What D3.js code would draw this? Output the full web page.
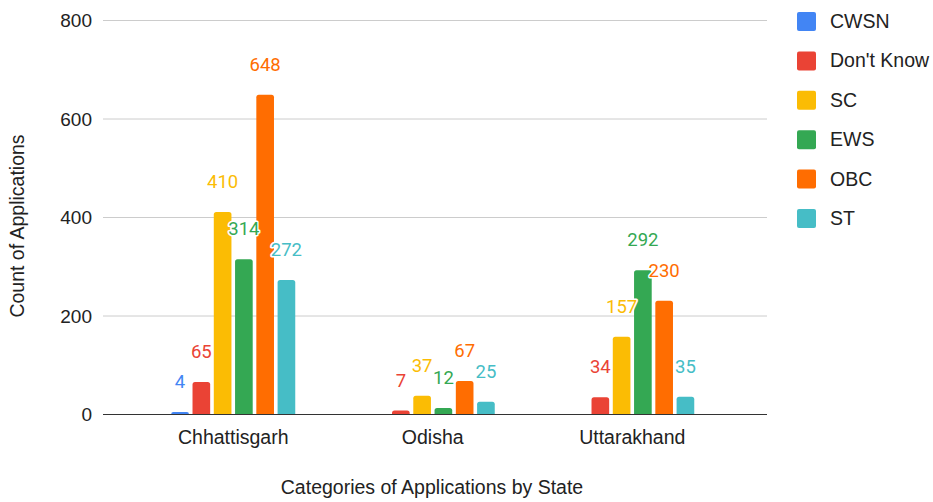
<!DOCTYPE html>
<html lang="en">
<head>
  <meta charset="UTF-8">
  <title>Categories of Applications by State</title>
  <script src="https://d3js.org/d3.v7.min.js"></script>
  <style>
    body {
      margin: 0;
      background: #fff;
    }
    text {
      font-family: "Liberation Sans", Arial, sans-serif;
      fill: #222;
    }
    .grid line {
      stroke: #cccccc;
      stroke-width: 1px;
    }
    .label {
      font-family: Roboto, sans-serif;
      font-size: 18.5px;
      stroke: #fff;
      stroke-width: 3px;
      stroke-linejoin: round;
      paint-order: stroke;
    }
  </style>
</head>
<body>
  <svg id="chart" width="933" height="502"></svg>

  <script>
    // Dane
    const states = ["Chhattisgarh", "Odisha", "Uttarakhand"];
    const categories = ["CWSN", "Don't Know", "SC", "EWS", "OBC", "ST"];
    const colors = ["#4285F4", "#EA4335", "#FBBC04", "#34A853", "#FF6D01", "#46BDC6"];
    const cwsn = [4, null, null];
    const dontKnow = [65, 7, 34];
    const sc = [410, 37, 157];
    const ews = [314, 12, 292];
    const obc = [648, 67, 230];
    const st = [272, 25, 35];
    const yTicks = [0, 200, 400, 600, 800];

    const series = [cwsn, dontKnow, sc, ews, obc, st];

    const width = 933;
    const height = 502;
    const plot = { left: 103, right: 767, top: 20, bottom: 414 };

    const svg = d3.select("#chart");

    // Skale
    const x0 = d3.scaleBand()
      .domain(states)
      .range([133.5, 732]);

    const x1 = d3.scaleBand()
      .domain(categories)
      .range([0, 124])
      .paddingInner(0.17);

    const y = d3.scaleLinear()
      .domain([0, 800])
      .range([plot.bottom, plot.top]);

    // Linie siatki
    svg.append("g")
      .attr("class", "grid")
      .selectAll("line")
      .data(yTicks.filter(d => d > 0))
      .enter()
      .append("line")
      .attr("x1", plot.left)
      .attr("x2", plot.right)
      .attr("y1", d => y(d) + 0.5)
      .attr("y2", d => y(d) + 0.5);

    // Etykiety osi Y
    svg.append("g")
      .selectAll("text")
      .data(yTicks)
      .enter()
      .append("text")
      .attr("x", 92)
      .attr("y", d => y(d) + 7)
      .attr("text-anchor", "end")
      .style("font-size", "19px")
      .text(d => d);

    // Słupki z zaokrąglonymi górnymi rogami
    function barPath(x, yTop, w, yBase, r) {
      r = Math.min(r, yBase - yTop);
      return `M${x},${yBase}V${yTop + r}Q${x},${yTop} ${x + r},${yTop}` +
        `H${x + w - r}Q${x + w},${yTop} ${x + w},${yTop + r}V${yBase}Z`;
    }

    const bars = [];
    states.forEach((s, i) => {
      categories.forEach((c, j) => {
        const v = series[j][i];
        if (v != null && v > 0) bars.push({ state: s, cat: c, value: v, color: colors[j] });
      });
    });

    const groupOffset = (x0.bandwidth() - 124) / 2;

    svg.append("g")
      .selectAll("path")
      .data(bars)
      .enter()
      .append("path")
      .attr("fill", d => d.color)
      .attr("d", d => barPath(
        x0(d.state) + groupOffset + x1(d.cat),
        y(d.value),
        x1.bandwidth(),
        plot.bottom,
        2.5
      ));

    // Oś pozioma (linia bazowa)
    svg.append("line")
      .attr("x1", plot.left)
      .attr("x2", plot.right)
      .attr("y1", plot.bottom + 0.5)
      .attr("y2", plot.bottom + 0.5)
      .attr("stroke", "#333")
      .attr("stroke-width", 1.2);

    // Etykiety wartości
    svg.append("g")
      .selectAll("text")
      .data(bars)
      .enter()
      .append("text")
      .attr("class", "label")
      .attr("x", d => x0(d.state) + groupOffset + x1(d.cat) + x1.bandwidth() / 2)
      .attr("y", d => y(d.value) - 24)
      .attr("text-anchor", "middle")
      .style("fill", d => d.color)
      .text(d => d.value);

    // Etykiety kategorii
    svg.append("g")
      .selectAll("text")
      .data(states)
      .enter()
      .append("text")
      .attr("x", d => x0(d) + x0.bandwidth() / 2)
      .attr("y", 444)
      .attr("text-anchor", "middle")
      .style("font-size", "19.5px")
      .text(d => d);

    // Tytuły osi
    svg.append("text")
      .attr("x", 432)
      .attr("y", 494)
      .attr("text-anchor", "middle")
      .style("font-size", "19.5px")
      .text("Categories of Applications by State");

    svg.append("text")
      .attr("transform", "translate(24, 226) rotate(-90)")
      .attr("text-anchor", "middle")
      .style("font-size", "19.5px")
      .text("Count of Applications");

    // Legenda
    const legend = svg.append("g")
      .selectAll("g")
      .data(categories)
      .enter()
      .append("g")
      .attr("transform", (d, i) => `translate(797, ${21 + i * 39.4})`);

    legend.append("rect")
      .attr("x", 0)
      .attr("y", -9)
      .attr("width", 19)
      .attr("height", 19)
      .attr("rx", 2)
      .attr("fill", (d, i) => colors[i]);

    legend.append("text")
      .attr("x", 33)
      .attr("y", 7)
      .style("font-size", "19.5px")
      .text(d => d);
  </script>
</body>
</html>
